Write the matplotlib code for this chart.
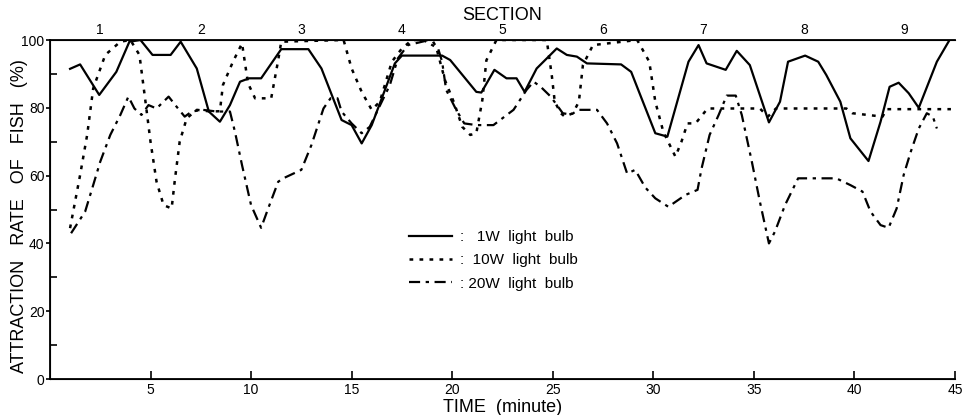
import numpy as np
import matplotlib.pyplot as plt

plt.rcParams['font.family'] = ['Liberation Sans', 'DejaVu Sans']

# データ (時間[分], 誘引率[%])
t_1w = [1.0, 1.5, 2.45, 3.3, 3.95, 4.5, 5.1, 6.0, 6.5, 7.3, 7.9, 8.45, 8.95, 9.45, 9.9,
        10.5, 11.5, 12.85, 13.5, 14.5, 15.0, 15.5, 16.0, 17.15, 17.5, 19.5, 19.9, 21.2, 21.45, 22.1,
        22.7, 23.2, 23.6, 24.2, 25.2, 25.7, 26.2, 26.7, 28.4, 28.9, 29.35, 30.1, 30.7, 31.75, 32.25,
        32.65, 33.6, 34.15, 34.8, 35.75, 36.3, 36.7, 37.55, 38.2, 38.6, 39.3, 39.8, 40.7, 41.3, 41.75,
        42.2, 42.7, 43.2, 44.1, 44.7]
rate_1w = [91.5, 92.8, 83.8, 90.6, 99.5, 100, 95.6, 95.6, 99.5, 91.6, 78.9, 75.9, 80.8, 87.7, 88.7,
           88.7, 97.3, 97.3, 91.6, 76.4, 74.9, 69.5, 74.9, 93.1, 95.4, 95.4, 94.1, 84.7, 84.5, 91.2,
           88.7, 88.7, 84.7, 91.6, 97.5, 95.6, 95.1, 93.1, 92.8, 90.6, 83.8, 72.5, 71.5, 93.6, 98.5,
           93.1, 91.2, 96.8, 92.6, 75.7, 81.8, 93.6, 95.4, 93.6, 89.7, 81.8, 71.0, 64.3, 75.9, 86.2,
           87.4, 84.3, 80.0, 93.6, 99.7]

t_10w = [1.0, 1.5, 1.85, 2.15, 2.75, 3.5, 4.0, 4.45, 4.75, 5.0, 5.3, 5.65, 6.05, 6.2, 6.45,
         6.8, 7.3, 8.0, 8.45, 8.6, 9.1, 9.55, 9.85, 10.2, 11.0, 11.35, 11.5, 14.6, 15.0, 15.5,
         16.0, 16.4, 17.0, 17.5, 18.0, 19.0, 19.2, 19.65, 20.1, 20.5, 20.9, 21.2, 21.5, 21.7, 22.2,
         24.7, 24.95, 25.1, 25.4, 25.6, 26.0, 26.3, 26.5, 27.0, 29.2, 29.8, 30.1, 30.5, 31.1, 31.4,
         31.7, 32.1, 32.7, 35.3, 35.7, 36.1, 39.6, 39.9, 41.4, 41.6, 44.8]
rate_10w = [44.5, 60.2, 72, 85.7, 95.6, 99.5, 100, 95.6, 81.8, 70, 58.2, 51.3, 50.3, 58.2, 70,
            76.9, 79.4, 78.9, 79, 86.7, 93.6, 99, 87.2, 82.8, 82.8, 94.1, 99.5, 100, 91.6, 84.7,
            79.4, 81.8, 93.6, 97.5, 100, 100, 98, 88, 81.4, 74.4, 72, 72.5, 82.3, 94, 100,
            100, 89.7, 81.8, 78.4, 77.4, 78.4, 81.8, 92.6, 98.5, 100, 93.6, 81.8, 72.9, 65.6, 70,
            75.4, 75.4, 79.8, 79.8, 77.4, 79.8, 79.8, 78.4, 77.4, 79.6, 79.6]

t_20w = [1.05, 1.75, 2.15, 2.5, 3.0, 3.5, 3.9, 4.2, 4.55, 4.9, 5.3, 5.9, 6.3, 6.7, 7.05,
         7.6, 8.3, 8.95, 9.2, 9.55, 10.0, 10.5, 10.85, 11.35, 11.6, 12.5, 13.0, 13.6, 13.95, 14.3,
         14.5, 15.0, 15.5, 15.9, 16.5, 16.9, 17.3, 17.8, 18.65, 19.3, 19.5, 19.7, 20.2, 20.6, 21.2,
         22.05, 23.05, 23.7, 24.05, 24.4, 24.9, 25.5, 25.9, 26.3, 27.2, 27.7, 28.2, 28.7, 29.1, 29.6,
         30.1, 30.75, 31.6, 32.2, 32.4, 32.8, 33.25, 33.65, 34.1, 34.4, 34.9, 35.3, 35.75, 36.05, 36.55,
         37.2, 39.1, 39.8, 40.4, 40.8, 41.3, 41.7, 42.1, 42.45, 42.8, 43.2, 43.6, 43.9, 44.1]
rate_20w = [43, 49.4, 57.2, 64.1, 72, 77.9, 83.3, 79.8, 77.9, 80.8, 79.8, 83.3, 80.3, 77.4, 78.9,
            79.4, 78.9, 78.9, 72.9, 63.1, 51.3, 44.6, 50.3, 58.2, 59.2, 61.7, 69, 79.8, 82.8, 82.8,
            78.9, 75.4, 72.5, 74.4, 81.8, 86.7, 94.6, 98.5, 99.7, 97.5, 93.6, 85.3, 79.4, 75.4, 74.9,
            74.9, 79.4, 85.3, 87.7, 86.2, 83.3, 78.4, 78, 79.4, 79.4, 75.4, 69.5, 60.6, 61.7, 56.5,
            53.3, 50.8, 54.3, 55.8, 62.1, 72, 77.9, 83.6, 83.6, 77.9, 64.1, 52.3, 40, 43.5, 51.3,
            59.2, 59.2, 57.2, 55.3, 49.4, 45.4, 44.6, 50.3, 60.2, 67, 73.9, 78.4, 77.4, 73.9]

labels = [':   1W  light  bulb', ':  10W  light  bulb', ': 20W  light  bulb']
section_names = ['1', '2', '3', '4', '5', '6', '7', '8', '9']
section_centers = [2.5, 7.5, 12.5, 17.5, 22.5, 27.5, 32.5, 37.5, 42.5]

# グラフの作成
fig = plt.figure(figsize=(9.7, 4.15), dpi=100)
ax = fig.add_axes([0.0515, 0.0867, 0.933, 0.8169])

l1, = ax.plot(t_1w, rate_1w, color='black', lw=1.6, ls='-')
l2, = ax.plot(t_10w, rate_10w, color='black', lw=1.8, ls=(0, (1.5, 2.5)))
l3, = ax.plot(t_20w, rate_20w, color='black', lw=1.6, ls=(0, (5, 2.5, 1.5, 2.5)))

ax.set_xlim(0, 45)
ax.set_ylim(0, 100)
ax.set_xticks(np.arange(5, 46, 5))
ax.set_yticks(np.arange(0, 101, 20))
ax.set_yticks(np.arange(10, 100, 20), minor=True)
ax.spines['right'].set_visible(False)
for s in ['left', 'bottom', 'top']:
	ax.spines[s].set_linewidth(1.3)
ax.tick_params(axis='x', direction='in', top=True, length=6, width=1.2, labelsize=10, pad=3)
ax.tick_params(axis='y', which='major', direction='out', length=3, width=1.2, labelsize=10, pad=1)
ax.tick_params(axis='y', which='minor', direction='in', length=5, width=1.2)

ax.set_xlabel('TIME  (minute)', fontsize=13, labelpad=1)
ax.set_ylabel('ATTRACTION   RATE   OF   FISH   (%)', fontsize=13)
ax.yaxis.set_label_coords(-0.024, 0.48)

# 上側のセクション番号
ax2 = ax.twiny()
ax2.set_xlim(0, 45)
ax2.set_xticks(section_centers)
ax2.set_xticklabels(section_names)
ax2.tick_params(axis='x', length=0, labelsize=10, pad=2)
ax2.spines['right'].set_visible(False)
ax2.set_xlabel('SECTION', fontsize=13, labelpad=2)

ax.legend([l1, l2, l3], labels, loc='center left', bbox_to_anchor=(0.382, 0.35),
          frameon=False, handlelength=2.8, handletextpad=0.5, labelspacing=0.6, fontsize=11)

fig.savefig('out.png', dpi=100)
